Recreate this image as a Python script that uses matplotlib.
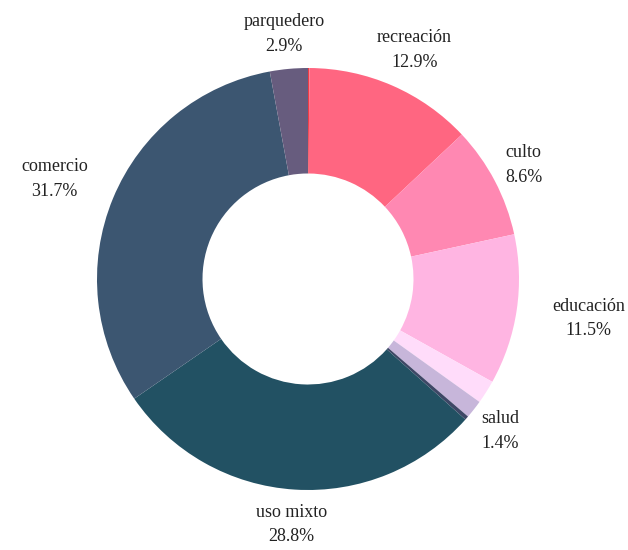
import numpy as np
import matplotlib
matplotlib.use('Agg')
import matplotlib.pyplot as plt

plt.rcParams['font.family'] = ['Liberation Serif', 'DejaVu Serif']

# slice data, clockwise from the top
labels = ['', 'recreación', 'culto', 'educación', '', 'salud', '', 'uso mixto', 'comercio', 'parquedero']
values = [0.1, 12.9, 8.6, 11.5, 1.8, 1.4, 0.3, 28.8, 31.7, 2.9]
colors = ['#EE3D45', '#FF6681', '#FF88B2', '#FFB5E2', '#FFDCFA', '#C7B6DA',
          '#3E4766', '#225163', '#3C5671', '#675C7E']

fig = plt.figure(figsize=(6.28, 5.5), dpi=100)
ax = fig.add_axes([0, 0, 1, 1])
R = 211.0

wedges, _ = ax.pie(values, colors=colors, startangle=90, counterclock=False,
                   radius=1.0, wedgeprops=dict(width=0.5, linewidth=0))
ax.set_xlim(-308 / R, 320 / R)
ax.set_ylim(-271 / R, 279 / R)
ax.set_aspect('equal')
ax.axis('off')

fig.canvas.draw()
renderer = fig.canvas.get_renderer()
px = 1.0 / R  # one pixel in data units
for w, lab, v in zip(wedges, labels, values):
    if not lab:
        continue
    ang = np.deg2rad((w.theta1 + w.theta2) / 2)
    dx, dy = np.cos(ang), np.sin(ang)
    t = ax.text(0, 0, f'{lab}\n{v:.1f}%', ha='center', va='center',
                fontsize=13, linespacing=1.6, color='#222222')
    bb = t.get_window_extent(renderer)
    # wide labels near the sides sit a bit further out
    r = (225 + 0.7 * max(0, bb.width - 40) * dx * dx) * px
    cx = r * dx + bb.width / 2 * px * dx
    cy = r * dy + bb.height / 2 * px * dy
    t.set_position((cx, cy))

fig.savefig('out.png', dpi=100)
